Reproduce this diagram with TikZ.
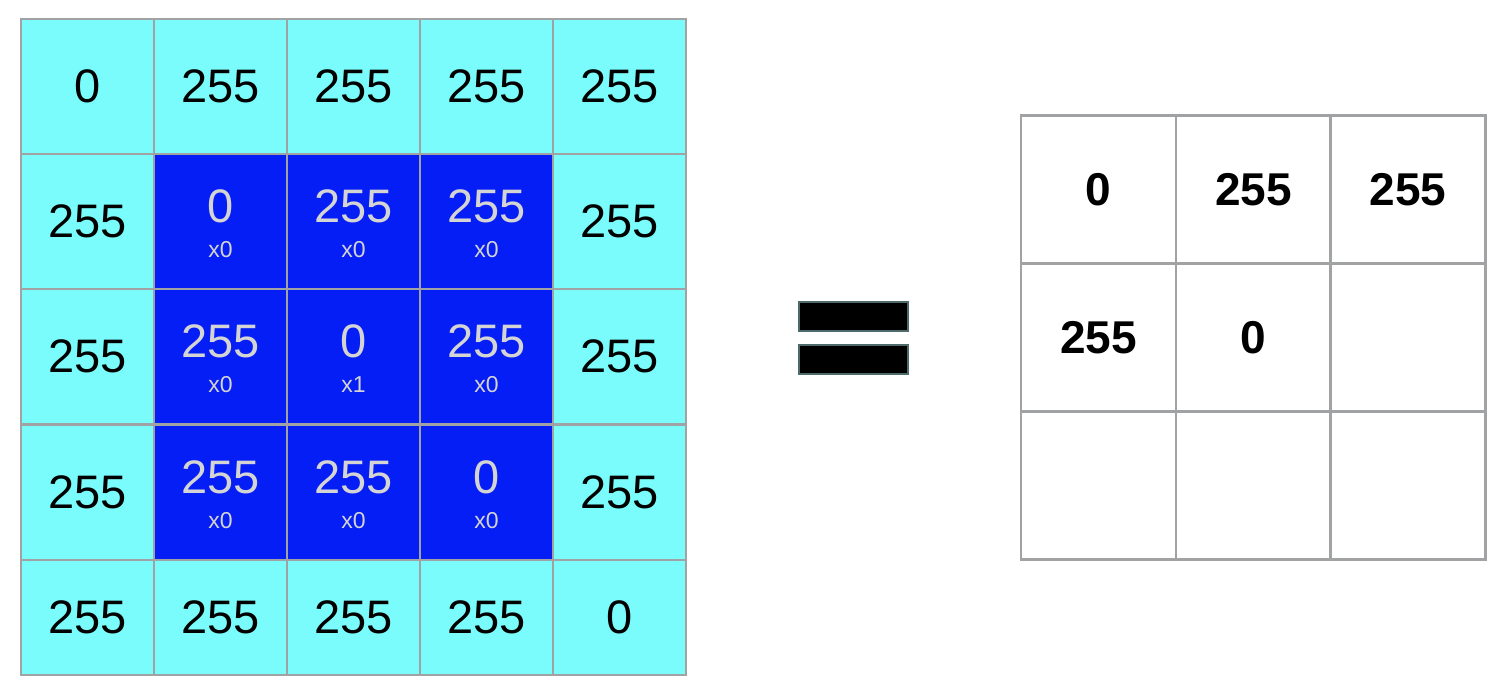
\documentclass[tikz,border=0pt]{standalone}
\usepackage{fontspec}
\setmainfont{Liberation Sans}
\definecolor{cyanc}{RGB}{122,252,252}
\definecolor{bluec}{RGB}{5,30,245}
\definecolor{gridg}{RGB}{160,162,164}
\definecolor{lightg}{RGB}{212,212,212}
\definecolor{eqedge}{RGB}{77,107,107}
\tikzset{
  cell/.style={draw=gridg, line width=2pt, minimum width=133pt, minimum height=135pt, inner sep=0pt, outer sep=0pt, fill=cyanc, text=black, font=\fontsize{47}{47}\selectfont},
  lowcell/.style={cell, minimum height=115pt},
  bcell/.style={cell, fill=bluec},
  bnum/.style={inner sep=0pt, text=lightg, font=\fontsize{47}{47}\selectfont},
  bmul/.style={inner sep=0pt, text=lightg, font=\fontsize{23}{23}\selectfont},
  rcell/.style={draw=gridg, line width=2.4pt, minimum width=155pt, minimum height=148pt, inner sep=0pt, outer sep=0pt, fill=white, text=black, font=\bfseries\fontsize{46}{46}\selectfont},
  eqbar/.style={draw=eqedge, line width=2pt, fill=black, minimum width=109pt, minimum height=29pt, inner sep=0pt}
}
\begin{document}
\begin{tikzpicture}[x=1pt,y=-1pt]
\useasboundingbox[fill=white] (0,0) rectangle (1510,698);
% row 1
\node[cell] (a11) at (87.5,86.5) {0};
\node[cell] (a12) at (220.5,86.5) {255};
\node[cell] (a13) at (353.5,86.5) {255};
\node[cell] (a14) at (486.5,86.5) {255};
\node[cell] (a15) at (619.5,86.5) {255};
% row 2
\node[cell] (a21) at (87.5,221.5) {255};
\node[bcell] (a22) at (220.5,221.5) {};
\node[bcell] (a23) at (353.5,221.5) {};
\node[bcell] (a24) at (486.5,221.5) {};
\node[cell] (a25) at (619.5,221.5) {255};
% row 3
\node[cell] (a31) at (87.5,356.5) {255};
\node[bcell] (a32) at (220.5,356.5) {};
\node[bcell] (a33) at (353.5,356.5) {};
\node[bcell] (a34) at (486.5,356.5) {};
\node[cell] (a35) at (619.5,356.5) {255};
% row 4
\node[cell] (a41) at (87.5,492) {255};
\node[bcell] (a42) at (220.5,492) {};
\node[bcell] (a43) at (353.5,492) {};
\node[bcell] (a44) at (486.5,492) {};
\node[cell] (a45) at (619.5,492) {255};
% row 5
\node[lowcell] (a51) at (87.5,617.5) {255};
\node[lowcell] (a52) at (220.5,617.5) {255};
\node[lowcell] (a53) at (353.5,617.5) {255};
\node[lowcell] (a54) at (486.5,617.5) {255};
\node[lowcell] (a55) at (619.5,617.5) {0};
% kernel texts
\foreach \n/\v/\m in {a22/0/x0, a23/255/x0, a24/255/x0, a32/255/x0, a33/0/x1, a34/255/x0, a42/255/x0, a43/255/x0, a44/0/x0}{
  \node[bnum] (\n v) at ([yshift=15pt]\n.center) {\v};
  \node[bmul] (\n m) at ([yshift=-28.5pt]\n.center) {\m};
}
% equals
\node[eqbar] (eq1) at (853.5,316.5) {};
\node[eqbar] (eq2) at (853.5,359.5) {};
% result grid
\node[rcell] (b11) at (1098.5,189.5) {0};
\node[rcell] (b12) at (1253.5,189.5) {255};
\node[rcell] (b13) at (1408,189.5) {255};
\node[rcell] (b21) at (1098.5,337.5) {255};
\node[rcell] (b22) at (1253.5,337.5) {0};
\node[rcell] (b23) at (1408,337.5) {};
\node[rcell] (b31) at (1098.5,485.5) {};
\node[rcell] (b32) at (1253.5,485.5) {};
\node[rcell] (b33) at (1408,485.5) {};
\end{tikzpicture}
\end{document}
